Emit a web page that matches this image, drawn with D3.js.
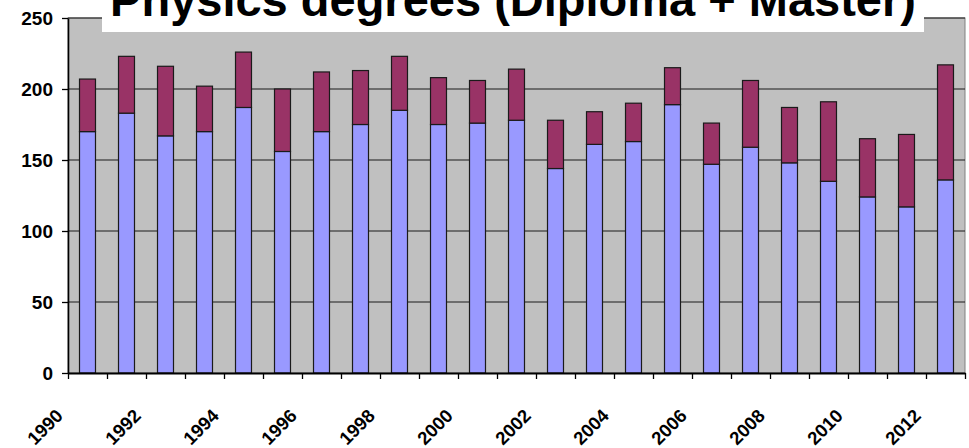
<!DOCTYPE html>
<html>
<head>
<meta charset="utf-8">
<script src="https://cdn.jsdelivr.net/npm/d3@7"></script>
<style>
  body { margin: 0; background: #fff; }
  svg { display: block; font-family: "Liberation Sans", Arial, sans-serif; }
</style>
</head>
<body>
<div id="chart"></div>
<script>
// years on the category axis, one bar each
var years = [1990, 1991, 1992, 1993, 1994, 1995, 1996, 1997, 1998, 1999, 2000, 2001,
             2002, 2003, 2004, 2005, 2006, 2007, 2008, 2009, 2010, 2011, 2012];
// lower (blue) part of each bar
var diploma = [170, 183, 167, 170, 187, 156, 170, 175, 185, 175, 176, 178,
               144, 161, 163, 189, 147, 159, 148, 135, 124, 117, 136];
// upper (maroon) part, on top of the blue one
var master = [37, 40, 49, 32, 39, 44, 42, 38, 38, 33, 30, 36,
              34, 23, 27, 26, 29, 47, 39, 56, 41, 51, 81];
var yTicks = [0, 50, 100, 150, 200, 250];
var labelYears = [1990, 1992, 1994, 1996, 1998, 2000, 2002, 2004, 2006, 2008, 2010, 2012];
var title = 'Physics degrees (Diploma + Master)';

var W = 969, H = 448;
var margin = {top: 18, right: 4, bottom: 75, left: 68},
    width = W - margin.left - margin.right,
    height = H - margin.top - margin.bottom;

var svg = d3.select('#chart').append('svg')
    .attr('width', W)
    .attr('height', H);

var g = svg.append('g')
    .attr('transform', 'translate(' + margin.left + ',' + margin.top + ')');

var x = d3.scaleBand()
    .domain(years)
    .range([0, width])
    .paddingInner(0.59)
    .paddingOuter(0.295);

var y = d3.scaleLinear()
    .domain([0, 250])
    .range([height, 0]);

// index scale for the tick marks between the categories
var xEdge = d3.scaleLinear()
    .domain([0, years.length])
    .range([0, width]);

// plot background
g.append('rect')
    .attr('width', width)
    .attr('height', height)
    .attr('fill', '#c0c0c0')
    .attr('stroke', '#808080')
    .attr('stroke-width', 1);

// gridlines
g.selectAll('.grid')
    .data(yTicks.slice(1))
    .enter().append('line')
    .attr('class', 'grid')
    .attr('x1', 0)
    .attr('x2', width)
    .attr('y1', d => y(d))
    .attr('y2', d => y(d))
    .attr('stroke', '#1a1a1a')
    .attr('stroke-width', 1.2);

var data = years.map(function(yr, i) {
    return {year: yr, low: diploma[i], high: master[i]};
});

// blue part
g.selectAll('.low')
    .data(data)
    .enter().append('rect')
    .attr('class', 'low')
    .attr('x', d => x(d.year))
    .attr('width', x.bandwidth())
    .attr('y', d => y(d.low))
    .attr('height', d => y(0) - y(d.low))
    .attr('fill', '#9999ff')
    .attr('stroke', '#1a1a1a')
    .attr('stroke-width', 1.2);

// maroon part
g.selectAll('.high')
    .data(data)
    .enter().append('rect')
    .attr('class', 'high')
    .attr('x', d => x(d.year))
    .attr('width', x.bandwidth())
    .attr('y', d => y(d.low + d.high))
    .attr('height', d => y(d.low) - y(d.low + d.high))
    .attr('fill', '#993366')
    .attr('stroke', '#1a1a1a')
    .attr('stroke-width', 1.2);

// y axis
var yAxis = g.append('g')
    .call(d3.axisLeft(y).tickValues(yTicks).tickSize(6).tickPadding(9).tickSizeOuter(0));
yAxis.select('.domain').attr('stroke', '#000').attr('stroke-width', 1.6);
yAxis.selectAll('.tick line').attr('stroke', '#000').attr('stroke-width', 1.3);
yAxis.selectAll('.tick text')
    .attr('fill', '#000')
    .style('font-size', '19px')
    .style('font-weight', 'bold')
    .style('font-family', '"Liberation Sans", Arial, sans-serif');

// x axis: ticks on the category boundaries
var xAxis = g.append('g')
    .attr('transform', 'translate(0,' + height + ')')
    .call(d3.axisBottom(xEdge).tickValues(d3.range(years.length + 1)).tickSize(6).tickFormat('').tickSizeOuter(0));
xAxis.select('.domain').attr('stroke', '#000').attr('stroke-width', 1.8);
xAxis.selectAll('.tick line').attr('stroke', '#000').attr('stroke-width', 1.3);

// rotated year labels, ending at the left boundary of their category
g.selectAll('.xlabel')
    .data(labelYears)
    .enter().append('text')
    .attr('class', 'xlabel')
    .attr('transform', d => 'translate(' + (xEdge(years.indexOf(d)) - 4) + ',' + (height + 44) + ') rotate(-45)')
    .attr('text-anchor', 'end')
    .style('font-size', '18.5px')
    .style('font-weight', 'bold')
    .attr('fill', '#000')
    .text(d => d);

// title on a white box, cut off by the top of the page
svg.append('rect')
    .attr('x', 102)
    .attr('y', 0)
    .attr('width', 822)
    .attr('height', 32)
    .attr('fill', '#fff');

svg.append('text')
    .attr('x', 513)
    .attr('y', 15.5)
    .attr('text-anchor', 'middle')
    .style('font-size', '47px')
    .style('font-weight', 'bold')
    .attr('fill', '#000')
    .text(title);
</script>
</body>
</html>
